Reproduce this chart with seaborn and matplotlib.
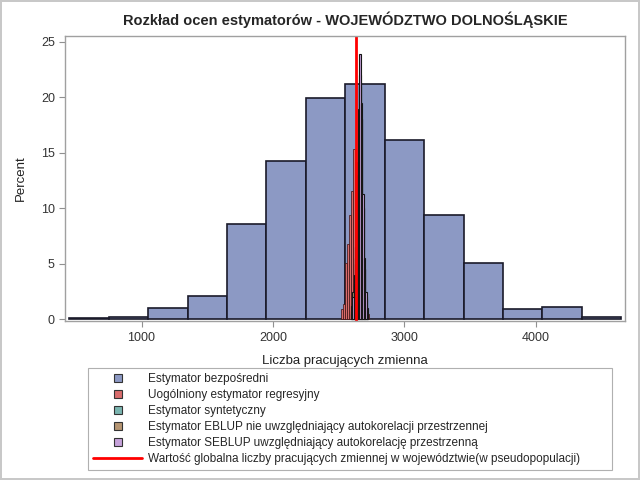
import numpy as np
import matplotlib
matplotlib.use("Agg")
import matplotlib.pyplot as plt
from matplotlib.lines import Line2D
import seaborn as sns

# Estymator bezposredni - szerokie klasy (szer. 300)
direct_edges = [450, 750, 1050, 1350, 1650, 1950, 2250, 2550, 2850, 3150, 3450, 3750, 4050, 4350, 4650]
direct_pct = [0.1, 0.2, 1.0, 2.1, 8.6, 14.25, 19.9, 21.2, 16.1, 9.4, 5.05, 0.95, 1.1, 0.2]

# Uogolniony estymator regresyjny (GREG)
greg_edges = [2520, 2535, 2550, 2565, 2580, 2595, 2610, 2625, 2640, 2655, 2670, 2685, 2700, 2715, 2730]
greg_pct = [0.9, 1.4, 5.1, 6.8, 9.4, 11.6, 15.3, 14.2, 12.0, 8.5, 5.5, 3.4, 1.5, 0.5]

# estymatory syntetyczny, EBLUP, SEBLUP - waskie klasy
small_edges = [2592, 2603, 2614, 2625, 2636, 2647, 2658, 2669, 2680, 2691, 2702, 2713, 2724]
synth_pct = [0.5, 1.5, 3.0, 5.0, 11.0, 17.0, 22.0, 18.0, 10.0, 4.5, 2.0, 0.6]
eblup_pct = [1.2, 2.5, 4.0, 6.5, 13.0, 18.0, 21.0, 18.0, 10.0, 4.5, 1.8, 0.5]
seblup_pct = [0.8, 2.0, 3.3, 5.5, 12.0, 18.9, 23.9, 19.5, 11.3, 5.5, 2.5, 1.0]

true_value = 2631

labels = ["Estymator bezpośredni",
          "Uogólniony estymator regresyjny",
          "Estymator syntetyczny",
          "Estymator EBLUP nie uwzględniający autokorelacji przestrzennej",
          "Estymator SEBLUP uwzględniający autokorelację przestrzenną",
          "Wartość globalna liczby pracujących zmiennej w województwie(w pseudopopulacji)"]
colors = ["#8C99C4", "#D96C6C", "#7AB5B0", "#B69572", "#C6A2DA"]

sns.set_style("white")
plt.rcParams['font.family'] = ['Liberation Sans', 'DejaVu Sans']

fig = plt.figure(figsize=(6.4, 4.8), dpi=100)
fig.patch.set_edgecolor('#c8c8c8')
fig.patch.set_linewidth(1.5)
ax = fig.add_axes([0.102, 0.331, 0.875, 0.594])


def centers(edges):
    e = np.array(edges, dtype=float)
    return (e[:-1] + e[1:]) / 2


sns.histplot(x=centers(direct_edges), weights=direct_pct, bins=direct_edges, ax=ax,
             color=colors[0], alpha=1, edgecolor='#1a1a2a', linewidth=1.2)
sns.histplot(x=centers(greg_edges), weights=greg_pct, bins=greg_edges, ax=ax,
             color=colors[1], alpha=1, edgecolor='#3a1010', linewidth=0.5)
for pct, col in [(synth_pct, colors[2]), (eblup_pct, colors[3]), (seblup_pct, colors[4])]:
    sns.histplot(x=centers(small_edges), weights=pct, bins=small_edges, ax=ax,
                 color=col, alpha=1, edgecolor='#151515', linewidth=0.8)
ax.axvline(true_value, color='#ff0000', linewidth=2)

ax.set_xlim(420, 4680)
ax.set_ylim(-0.15, 25.5)
ax.set_xticks([1000, 2000, 3000, 4000])
ax.set_yticks([0, 5, 10, 15, 20, 25])
ax.tick_params(axis='both', labelsize=9, colors='#333333', length=4, width=0.8,
               direction='out', bottom=True, left=True)
ax.tick_params(axis='both', color='#909090')
for s in ax.spines.values():
    s.set_color('#a0a0a0')
    s.set_linewidth(1)
ax.set_xlabel("Liczba pracujących zmienna", fontsize=9.5, color='#222222', labelpad=8)
ax.set_ylabel("Percent", fontsize=9.5, color='#222222', labelpad=10)
ax.set_title("Rozkład ocen estymatorów - WOJEWÓDZTWO DOLNOŚLĄSKIE",
             fontsize=10.5, fontweight='bold', pad=8)

handles = [Line2D([], [], marker='s', linestyle='none', markersize=6,
                  markerfacecolor=c, markeredgecolor='#333333', markeredgewidth=0.8)
           for c in colors]
handles.append(Line2D([], [], color='#ff0000', linewidth=2))
leg = fig.legend(handles, labels, loc='upper left',
                 bbox_to_anchor=(88 / 640, 0, 524 / 640, 1 - 368 / 480), mode='expand',
                 fontsize=8.5, frameon=True, fancybox=False, framealpha=1,
                 edgecolor='#b0b0b0', handlelength=4.2, handletextpad=0.5,
                 labelspacing=0.35, borderpad=0.4, borderaxespad=0)
leg.get_frame().set_linewidth(0.8)

fig.savefig("out.png", dpi=100)
